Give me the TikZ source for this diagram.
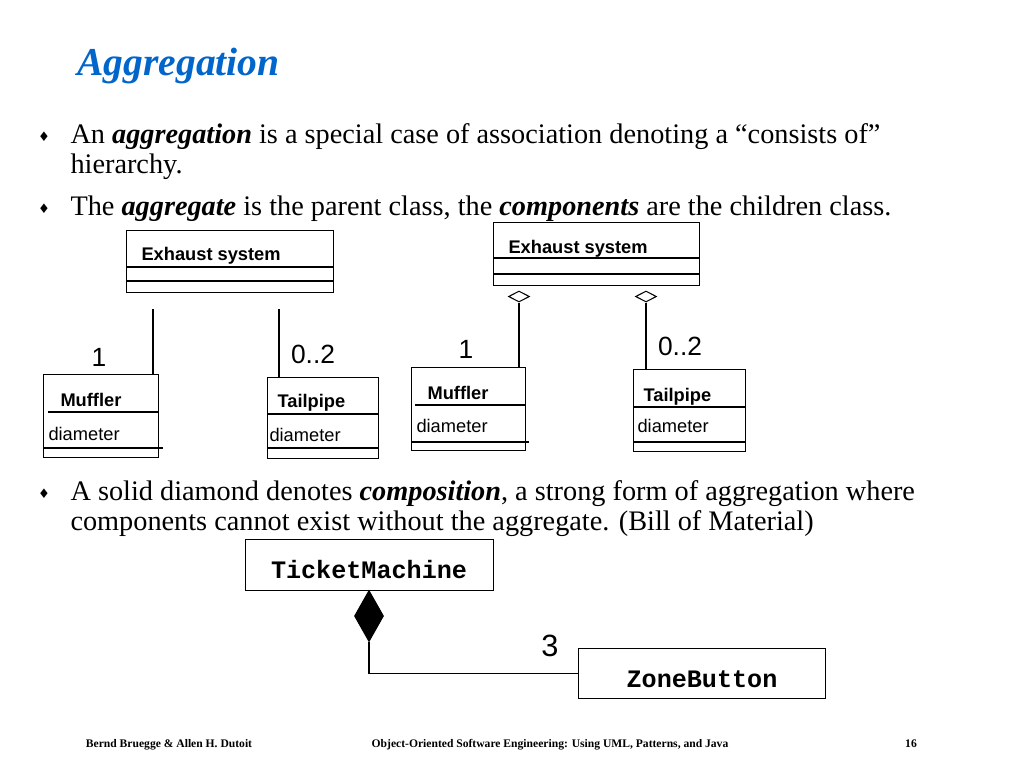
\documentclass[tikz,border=0pt]{standalone}
\usepackage{xcolor}
\usepackage{fontspec}
\setmainfont{Liberation Serif}
\setsansfont{Liberation Sans}
\setmonofont{Liberation Mono}
\newfontfamily\symfont{DejaVu Sans}
\usepackage{tikz}
\usetikzlibrary{positioning}
\usetikzlibrary{shapes.geometric,calc}
\definecolor{titleblue}{RGB}{0,102,204}

\begin{document}
\begin{tikzpicture}[x=0.02cm, y=-0.02cm, semithick,
  cls/.style={draw, line width=0.8pt, inner sep=0pt, anchor=north west},
  cname/.style={anchor=base west, inner sep=0pt, font=\sffamily\bfseries\fontsize{10.4}{12}\selectfont},
  attr/.style={anchor=base west, inner sep=0pt, font=\sffamily\fontsize{10.4}{12}\selectfont},
  mult/.style={anchor=base, inner sep=0pt, font=\sffamily\fontsize{15}{17}\selectfont},
  body/.style={anchor=base west, inner sep=0pt, font=\fontsize{16.1}{18}\selectfont},
  bullet/.style={inner sep=0pt, font=\symfont\fontsize{7.5}{8}\selectfont},
  foot/.style={anchor=base, inner sep=0pt, font=\bfseries\fontsize{6.6}{8}\selectfont},
  link/.style={line width=0.6pt},
  hollow/.style={diamond, draw, line width=0.6pt, fill=white, inner sep=0pt, minimum width=0.42cm, minimum height=0.22cm},
  solid/.style={diamond, draw, fill=black, inner sep=0pt, minimum width=0.58cm, minimum height=1.02cm}]

  \useasboundingbox[fill=white] (0,0) rectangle (1024,768);

  % title and text
  \node[anchor=base west, inner sep=0pt, text=titleblue, font=\bfseries\itshape\fontsize{22.5}{26}\selectfont] (title) at (77,75) {Aggregation};

  \node[bullet] (bu1) at (44,137) {♦};
  \node[body] (t1a) at (70,143) {An \textbf{\textit{aggregation}} is a special case of association denoting a “consists of”};
  \node[body] (t1b) at (70,173) {hierarchy.};
  \node[bullet] (bu2) at (44,209) {♦};
  \node[body] (t2) at (70,215) {The \textbf{\textit{aggregate}} is the parent class, the \textbf{\textit{components}} are the children class.};
  \node[bullet] (bu3) at (44,494) {♦};
  \node[body] (t3a) at (70,500) {A solid diamond denotes \textbf{\textit{composition}}, a strong form of aggregation where};
  \node[body] (t3b) at (70,530) {components cannot exist without the aggregate. (Bill of Material)};

  % left diagram: plain association
  \node[cls, minimum width=4.14cm, minimum height=1.24cm] (exL) at (126,230) {};
  \draw[link] (126,267) -- (333,267);
  \draw[link] (126,281) -- (333,281);
  \node[cname] (exLn) at (141,260) {Exhaust system};

  \node[cls, minimum width=2.3cm, minimum height=1.66cm] (mufL) at (43,374) {};
  \draw[link] (48,412) -- (158,412);
  \draw[link] (43,448) -- (163,448);
  \node[cname] (mufLn) at (60,406) {Muffler};
  \node[attr] (mufLa) at (48,440) {diameter};

  \node[cls, minimum width=2.22cm, minimum height=1.62cm] (tailL) at (267,377) {};
  \draw[link] (267,414) -- (378,414);
  \draw[link] (267,448) -- (378,448);
  \node[cname] (tailLn) at (277,407) {Tailpipe};
  \node[attr] (tailLa) at (269,441) {diameter};

  \coordinate (a1) at (153,309);
  \coordinate (a2) at (279,309);
  \draw[link] (a1) -- (a1 |- mufL.north);
  \draw[link] (a2) -- (a2 |- tailL.north);
  \node[mult] (m1) at (99,366) {1};
  \node[mult] (m2) at (313,363) {0..2};

  % right diagram: aggregation
  \node[cls, minimum width=4.12cm, minimum height=1.26cm] (exR) at (493,222) {};
  \draw[link] (493,258) -- (699,258);
  \draw[link] (493,274) -- (699,274);
  \node[cname] (exRn) at (508,253) {Exhaust system};

  \node[cls, minimum width=2.28cm, minimum height=1.66cm] (mufR) at (411,367) {};
  \draw[link] (415,405) -- (525,405);
  \draw[link] (411,442) -- (529,442);
  \node[cname] (mufRn) at (427,399) {Muffler};
  \node[attr] (mufRa) at (416,432) {diameter};

  \node[cls, minimum width=2.24cm, minimum height=1.64cm] (tailR) at (633,369) {};
  \draw[link] (633,407) -- (745,407);
  \draw[link] (633,442) -- (745,442);
  \node[cname] (tailRn) at (643,401) {Tailpipe};
  \node[attr] (tailRa) at (637,432) {diameter};

  \node[hollow] (d1) at (519,296.5) {};
  \node[hollow] (d2) at (646,296.5) {};
  \draw[link] (d1.south) -- (d1.south |- mufR.north);
  \draw[link] (d2.south) -- (d2.south |- tailR.north);
  \node[mult] (m3) at (466,358) {1};
  \node[mult] (m4) at (680,355) {0..2};

  % composition
  \node[cls, minimum width=4.96cm, minimum height=1.02cm] (tm) at (245,539) {};
  \node[anchor=base, inner sep=0pt, font=\ttfamily\bfseries\fontsize{14.3}{16}\selectfont] (tmn) at (369,578) {TicketMachine};
  \node[cls, minimum width=4.94cm, minimum height=1.0cm] (zb) at (578,648) {};
  \node[anchor=base, inner sep=0pt, font=\ttfamily\bfseries\fontsize{14.3}{16}\selectfont] (zbn) at (702,687) {ZoneButton};
  \node[solid] (fd) at (369,616) {};
  \draw[link] (fd.south) |- (zb.west);
  \node[anchor=base, inner sep=0pt, font=\sffamily\fontsize{17.5}{20}\selectfont] (m5) at (550,656) {3};

  % footer
  \node[foot] (f1) at (169,747) {Bernd Bruegge \& Allen H. Dutoit};
  \node[foot] (f2) at (550,747) {Object-Oriented Software Engineering: Using UML, Patterns, and Java};
  \node[foot] (f3) at (911,747) {16};
\end{tikzpicture}
\end{document}
